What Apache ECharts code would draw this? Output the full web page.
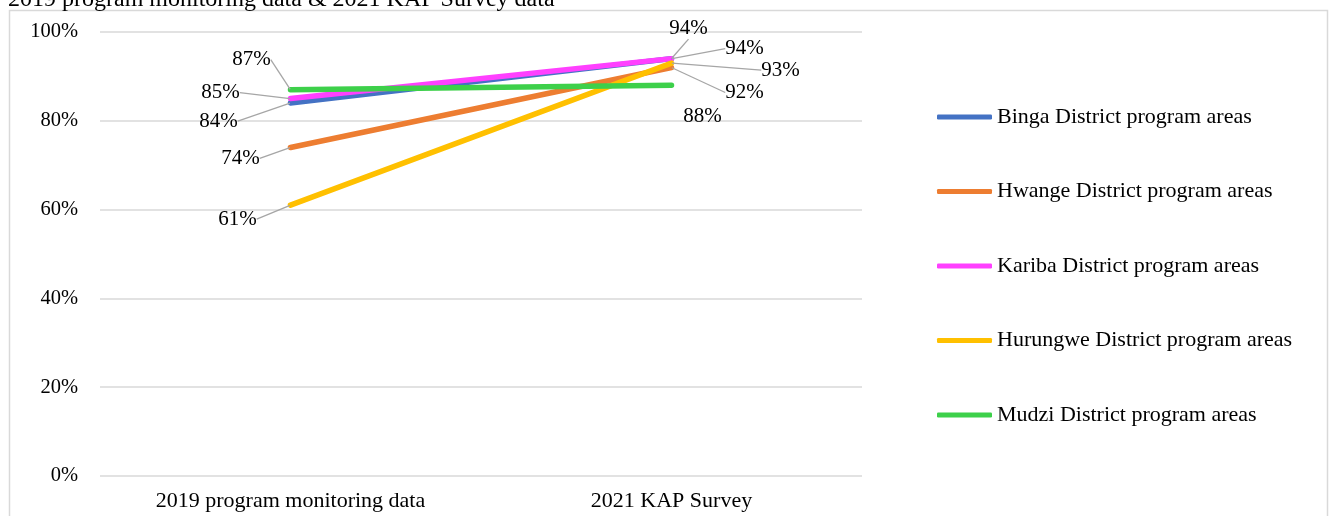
<!DOCTYPE html>
<html>
<head>
<meta charset="utf-8">
<script src="https://cdn.jsdelivr.net/npm/echarts@6/dist/echarts.min.js"></script>
<style>
  html, body { margin: 0; padding: 0; background: #fff; }
  #chart { width: 1333px; height: 516px; }
</style>
</head>
<body>
<div id="chart"></div>
<script>
// Categories and values (percent)
const categories = ['2019 program monitoring data', '2021 KAP Survey'];
const seriesNames = [
  'Binga District program areas',
  'Hwange District program areas',
  'Kariba District program areas',
  'Hurungwe District program areas',
  'Mudzi District program areas'
];
const binga    = [84, 94];
const hwange   = [74, 92];
const kariba   = [85, 94];
const hurungwe = [61, 93];
const mudzi    = [87, 88];
const yTicks = [0, 20, 40, 60, 80, 100];

const seriesValues = [binga, hwange, kariba, hurungwe, mudzi];
const colors = ['#4472C4', '#ED7D31', '#FF40FF', '#FFC000', '#3DD04A'];

// Label offsets from each point (label centre), per series, per category
const labelOffsets = [
  [[-72, 18], [17, -30]],
  [[-50, 11], [73, 25]],
  [[-70, -6], [73, -10]],
  [[-53, 14], [109, 7]],
  [[-39, -30], [31, 31]]
];
const showGuide = [
  [true, true], [true, true], [true, true], [true, true], [true, false]
];

const font = 'Liberation Serif, Times New Roman, serif';

const chart = echarts.init(document.getElementById('chart'));

const series = seriesNames.map((name, i) => ({
  name,
  type: 'line',
  data: seriesValues[i].map((v, j) => ({
    value: v,
    labelLine: { show: showGuide[i][j] }
  })),
  color: colors[i],
  lineStyle: { width: 5.5, color: colors[i], cap: 'round' },
  symbol: 'circle',
  symbolSize: 1,
  showSymbol: true,
  itemStyle: { color: colors[i] },
  emphasis: { disabled: true },
  animation: false,
  label: {
    show: true,
    position: 'inside',
    formatter: p => p.value + '%',
    fontFamily: font,
    fontSize: 21,
    color: '#000'
  },
  labelLine: {
    show: true,
    lineStyle: { color: '#A6A6A6', width: 1.3 }
  },
  labelLayout: params => {
    const off = labelOffsets[params.seriesIndex][params.dataIndex];
    return { dx: off[0], dy: off[1] };
  }
}));

chart.setOption({
  animation: false,
  title: {
    text: '2019 program monitoring data & 2021 KAP Survey data',
    left: 8,
    top: -12,
    padding: 0,
    textStyle: { fontFamily: font, fontSize: 24, fontWeight: 'normal', color: '#000' }
  },
  graphic: [{
    type: 'rect',
    shape: { x: 9.5, y: 10.5, width: 1318, height: 530 },
    style: { fill: 'none', stroke: '#D9D9D9', lineWidth: 1.5 },
    silent: true,
    z: -1
  }],
  legend: {
    orient: 'vertical',
    left: 937,
    top: 106,
    padding: 0,
    itemWidth: 55,
    itemHeight: 5,
    itemGap: 52.5,
    icon: 'roundRect',
    selectedMode: false,
    textStyle: { fontFamily: font, fontSize: 22, color: '#000', lineHeight: 22 },
    data: seriesNames
  },
  grid: { left: 100, right: 471, top: 32, bottom: 40, containLabel: false },
  xAxis: {
    type: 'category',
    data: categories,
    boundaryGap: true,
    axisLine: { show: false },
    axisTick: { show: false },
    axisLabel: { fontFamily: font, fontSize: 22, color: '#000', margin: 14 }
  },
  yAxis: {
    type: 'value',
    min: yTicks[0],
    max: yTicks[yTicks.length - 1],
    interval: yTicks[1] - yTicks[0],
    axisLine: { show: false },
    axisTick: { show: false },
    splitLine: { lineStyle: { color: '#D9D9D9', width: 1.5 } },
    axisLabel: { fontFamily: font, fontSize: 20.5, color: '#000', margin: 22, formatter: '{value}%' }
  },
  series
});
</script>
</body>
</html>
